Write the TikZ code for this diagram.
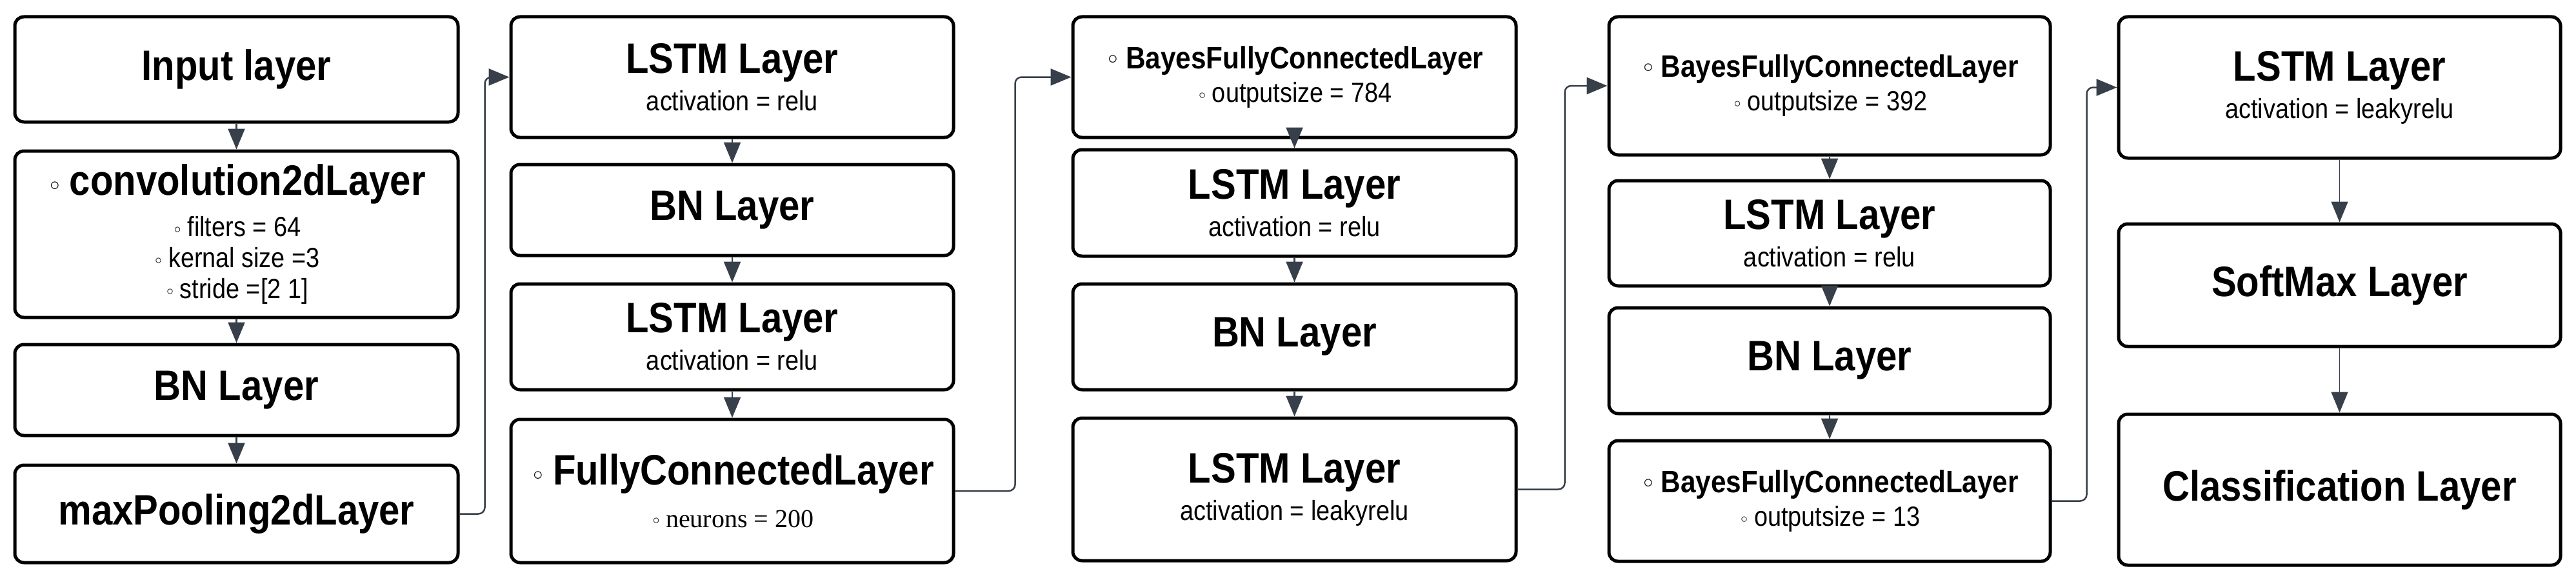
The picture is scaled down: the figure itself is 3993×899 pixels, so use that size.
\documentclass[tikz,border=0pt]{standalone}
\usepackage{fontspec}
\setmainfont{Liberation Sans}[FakeStretch=0.88]
\newfontfamily\serifnum{Liberation Serif}
\newfontfamily\djv{DejaVu Sans}
\usetikzlibrary{arrows.meta}
\definecolor{arrc}{HTML}{373F4A}
\begin{document}
\begin{tikzpicture}[x=1pt,y=-1pt,
  box/.style={draw=black,line width=5pt,rounded corners=14pt,align=center,inner sep=0pt,fill=white},
  T/.style={font=\fontsize{66}{64}\selectfont\bfseries},
  B/.style={font=\fontsize{48}{56}\selectfont\bfseries},
  arr/.style={draw=arrc,line width=2.5pt,-{Triangle[length=32pt,width=26pt]}},
  elb/.style={arr,rounded corners=10pt}]
\useasboundingbox[fill=white] (0,0) rectangle (3993,899);
\newcommand{\sub}[1]{{\fontsize{43}{48}\selectfont\mdseries #1}}
\newcommand{\bul}{{\fontsize{40}{40}\selectfont\djv\mdseries ◦}\,}
\newcommand{\sbul}{{\fontsize{28}{28}\selectfont\djv\mdseries ◦}\,}
% column 1
\node[box,T,minimum width=687pt,minimum height=163pt] (in) at (366.5,107.5) {Input layer};
\node[box,T,minimum width=687pt,minimum height=258pt] (conv) at (366.5,363) {\bul convolution2dLayer\\\sub{\sbul filters = 64}\\[-16pt]\sub{\sbul kernal size =3}\\[-16pt]\sub{\sbul stride =[2 1]}};
\node[box,T,minimum width=687pt,minimum height=141pt] (bn1) at (366.5,604.5) {BN Layer};
\node[box,T,minimum width=687pt,minimum height=151pt] (mp) at (366.5,796.5) {maxPooling2dLayer};
% column 2
\node[box,T,minimum width=686pt,minimum height=187pt] (l1) at (1135,119.5) {LSTM Layer\\[-6pt]\sub{activation = relu}};
\node[box,T,minimum width=686pt,minimum height=141pt] (bn2) at (1135,325.5) {BN Layer};
\node[box,T,minimum width=686pt,minimum height=164pt] (l2) at (1135,522) {LSTM Layer\\[-6pt]\sub{activation = relu}};
\node[box,T,minimum width=686pt,minimum height=222pt] (fc) at (1135,761) {\bul FullyConnectedLayer\\[2pt]{\serifnum\fontsize{40}{46}\selectfont\mdseries \sbul neurons = 200}};
% column 3
\node[box,B,minimum width=687pt,minimum height=187pt] (b1) at (2006.5,119.5) {\bul BayesFullyConnectedLayer\\[-4pt]\sub{\sbul outputsize = 784}};
\node[box,T,minimum width=687pt,minimum height=165pt] (l3) at (2006.5,314.5) {LSTM Layer\\[-6pt]\sub{activation = relu}};
\node[box,T,minimum width=687pt,minimum height=164pt] (bn3) at (2006.5,522) {BN Layer};
\node[box,T,minimum width=687pt,minimum height=221pt] (l4) at (2006.5,758.5) {LSTM Layer\\[-6pt]\sub{activation = leakyrelu}};
% column 4
\node[box,B,minimum width=684pt,minimum height=214pt] (b2) at (2836,133) {\bul BayesFullyConnectedLayer\\[-4pt]\sub{\sbul outputsize = 392}};
\node[box,T,minimum width=684pt,minimum height=163pt] (l5) at (2836,361.5) {LSTM Layer\\[-6pt]\sub{activation = relu}};
\node[box,T,minimum width=684pt,minimum height=164pt] (bn4) at (2836,559) {BN Layer};
\node[box,B,minimum width=684pt,minimum height=187pt] (b3) at (2836,776.5) {\bul BayesFullyConnectedLayer\\[-4pt]\sub{\sbul outputsize = 13}};
% column 5
\node[box,T,minimum width=685pt,minimum height=219pt] (l6) at (3626.5,135.5) {LSTM Layer\\[-6pt]\sub{activation = leakyrelu}};
\node[box,T,minimum width=685pt,minimum height=190pt] (sm) at (3626.5,442) {SoftMax Layer};
\node[box,T,minimum width=685pt,minimum height=234pt] (cl) at (3626.5,759) {Classification Layer};
% vertical arrows
\foreach \a/\b in {in/conv,conv/bn1,bn1/mp,l1/bn2,bn2/l2,l2/fc,b1/l3,l3/bn3,bn3/l4,b2/l5,l5/bn4,bn4/b3}
  \draw[arr] (\a.south) -- (\b.north);
\draw[arr,line width=1.5pt] (l6.south) -- (sm.north);
\draw[arr,line width=1.5pt] (sm.south) -- (cl.north);
% elbow arrows
\draw[elb] (mp.east) -- ++(39,0) |- (l1.west);
\draw[elb] (fc.east) -- ++(93,0) |- (b1.west);
\draw[elb] (l4.east) -- ++(73,0) |- (b2.west);
\draw[elb] (b3.east) -- ++(54,0) |- (l6.west);
\end{tikzpicture}
\end{document}
